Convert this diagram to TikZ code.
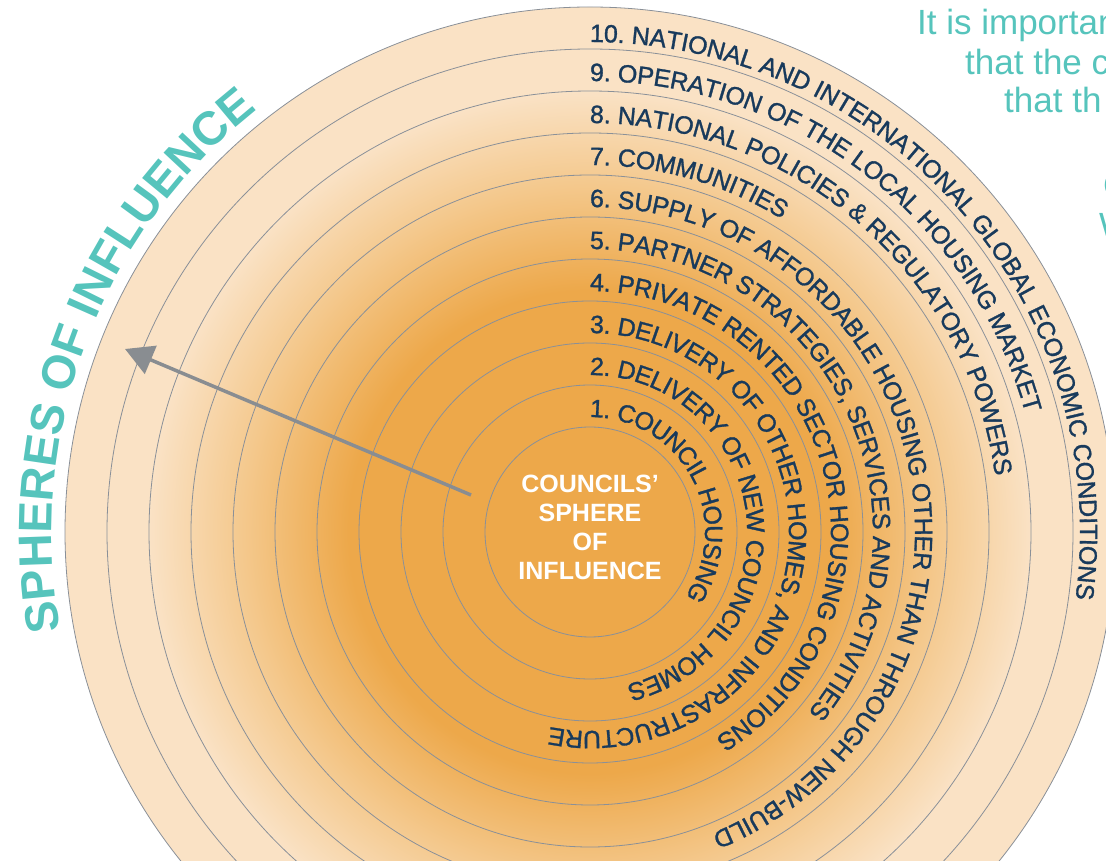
\documentclass[tikz,border=0pt]{standalone}
\usepackage{fontspec}
\setmainfont{Liberation Sans}
\newfontfamily\ringfamily[FakeBold=1.2]{Liberation Sans}
\usetikzlibrary{arrows.meta,decorations.text}

\definecolor{ringline}{RGB}{138,144,152}
\definecolor{labelblue}{RGB}{24,58,92}
\definecolor{spheregreen}{RGB}{86,196,188}
\definecolor{arrowgrey}{RGB}{137,141,145}
\definecolor{glowin}{RGB}{237,168,74}
\definecolor{glowmid}{RGB}{244,200,140}
\definecolor{glowout}{RGB}{250,226,197}
\pgfdeclareradialshading{sphereglow}{\pgfpoint{0bp}{0bp}}{color(0bp)=(glowin); color(11.5bp)=(glowin); color(16.5bp)=(glowmid); color(21bp)=(glowout); color(25bp)=(glowout); color(50bp)=(glowout)}

\newcommand\ringfont{\ringfamily\fontsize{25}{25}\selectfont}
\newcommand\titlefont{\fontsize{47}{47}\selectfont\bfseries}

\begin{document}
\begin{tikzpicture}[x=1pt,y=1pt,
	ring/.style={draw=ringline,line width=0.8pt},
	ringlabel/.style={decorate,decoration={text along path,text align=left,raise=-7pt,
		text color=labelblue,text={|\ringfont|#1}}},
	titlelabel/.style={decorate,decoration={text along path,text align=left,
		text color=spheregreen,text={|\titlefont|#1}}},
	pointer/.style={draw=arrowgrey,line width=3.5pt,-{Triangle[length=28pt,width=30pt]}},
	note/.style={text=spheregreen,font=\fontsize{35}{35}\selectfont,anchor=base west,inner sep=0pt}]
	\useasboundingbox (0,0) rectangle (1106,860);
	\clip (0,0) rectangle (1106,860);

	\coordinate (hub) at (590,328);

	\shade[shading=sphereglow] (hub) circle[radius=525];
	\foreach \r in {105,147,...,525}
		\draw[ring] (hub) circle[radius=\r];

	\path[ringlabel={1. COUNCIL HOUSING}]
		([shift={(90:122)}]hub) arc[start angle=90,end angle=-260,radius=122];
	\path[ringlabel={2. DELIVERY OF NEW COUNCIL HOMES}]
		([shift={(90:164)}]hub) arc[start angle=90,end angle=-260,radius=164];
	\path[ringlabel={3. DELIVERY OF OTHER HOMES, AND INFRASTRUCTURE}]
		([shift={(90:206)}]hub) arc[start angle=90,end angle=-260,radius=206];
	\path[ringlabel={4. PRIVATE RENTED SECTOR HOUSING CONDITIONS}]
		([shift={(90:248)}]hub) arc[start angle=90,end angle=-260,radius=248];
	\path[ringlabel={5. PARTNER STRATEGIES, SERVICES AND ACTIVITIES}]
		([shift={(90:290)}]hub) arc[start angle=90,end angle=-260,radius=290];
	\path[ringlabel={6. SUPPLY OF AFFORDABLE HOUSING OTHER THAN THROUGH NEW-BUILD}]
		([shift={(90:332)}]hub) arc[start angle=90,end angle=-260,radius=332];
	\path[ringlabel={7. COMMUNITIES}]
		([shift={(90:374)}]hub) arc[start angle=90,end angle=-260,radius=374];
	\path[ringlabel={8. NATIONAL POLICIES {\&} REGULATORY POWERS}]
		([shift={(90:416)}]hub) arc[start angle=90,end angle=-260,radius=416];
	\path[ringlabel={9. OPERATION OF THE LOCAL HOUSING MARKET}]
		([shift={(90:458)}]hub) arc[start angle=90,end angle=-260,radius=458];
	\path[ringlabel={10. NATIONAL AND INTERNATIONAL GLOBAL ECONOMIC CONDITIONS}]
		([shift={(90:497)}]hub) arc[start angle=90,end angle=-260,radius=497];

	\node[text=white,align=center,font=\fontsize{25}{29}\selectfont\bfseries] (core) at (590,333)
		{COUNCILS’\\SPHERE\\OF\\INFLUENCE};

	\coordinate (arrowtail) at (471,365);
	\coordinate (arrowtip) at (125,511);
	\draw[pointer] (arrowtail) -- (arrowtip);

	\path[titlelabel={SPHERES OF INFLUENCE}]
		([shift={(190.5:538)}]hub) arc[start angle=190.5,end angle=100,radius=538];

	\node[note] (note1) at (917,825) {It is important};
	\node[note] (note2) at (965,785) {that the c};
	\node[note] (note3) at (1004,747) {that th};
	\node[note] (note4) at (1103,662) {C};
	\node[note] (note5) at (1099,622) {W};
\end{tikzpicture}
\end{document}
